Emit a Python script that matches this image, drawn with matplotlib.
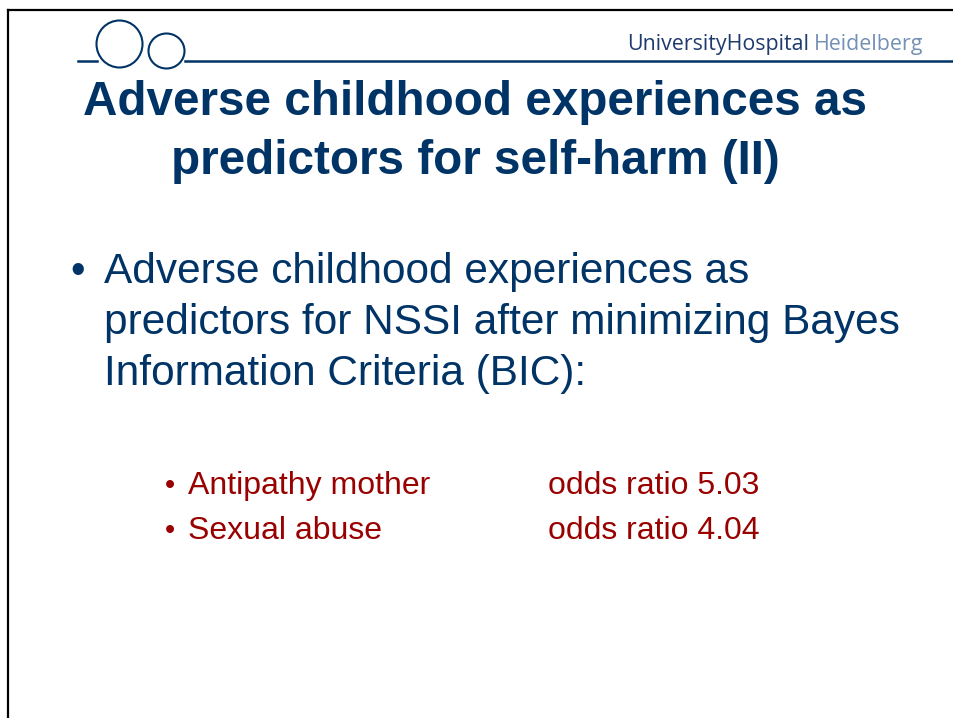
import matplotlib.pyplot as plt
from matplotlib.patches import Ellipse

# slide texts
title_lines = ["Adverse childhood experiences as", "predictors for self-harm (II)"]
body_lines = ["Adverse childhood experiences as",
              "predictors for NSSI after minimizing Bayes",
              "Information Criteria (BIC):"]
predictors = ["Antipathy mother", "Sexual abuse"]
odds_ratios = [5.03, 4.04]
brand = ["UniversityHospital", "Heidelberg"]

navy = "#003366"
red = "#990000"

fig = plt.figure(figsize=(9.54, 7.18), dpi=100)
ax = fig.add_axes([0, 0, 1, 1])
ax.set_xlim(0, 954)
ax.set_ylim(718, 0)
ax.axis("off")

# frame of the slide
ax.plot([8, 954], [10, 10], color="black", lw=1.6)
ax.plot([8, 8], [10, 718], color="black", lw=1.6)

# header logo
ax.plot([78, 97], [61, 61], color=navy, lw=1.8)
ax.plot([185, 954], [61, 61], color=navy, lw=1.8)
ax.add_patch(Ellipse((119.5, 44), 46, 47, fill=False, ec=navy, lw=1.5))
ax.add_patch(Ellipse((166.5, 51), 36, 35, fill=False, ec=navy, lw=1.5))
t = ax.text(627, 50, brand[0], color="#1f3a6e", fontsize=15.4,
            family="Open Sans", va="baseline")
fig.canvas.draw()
bb = t.get_window_extent()
x2 = ax.transData.inverted().transform((bb.x1, 0))[0]
ax.text(x2 + 5, 50, brand[1], color="#7390b5", fontsize=15.4,
        family="Open Sans", va="baseline")

# title
for i, line in enumerate(title_lines):
    ax.text(475, 115 + i * 59, line, color=navy, fontsize=34.3, fontweight="bold",
            family="Liberation Sans", ha="center", va="baseline")

# main bullet
ax.text(70, 283, "\u2022", color=navy, fontsize=30, family="Liberation Sans", va="baseline")
for i, line in enumerate(body_lines):
    ax.text(104, 283 + i * 51, line, color=navy, fontsize=30.5,
            family="Liberation Sans", va="baseline")

# sub bullets
for i, (name, odds) in enumerate(zip(predictors, odds_ratios)):
    y = 494 + i * 45
    ax.text(165, y, "\u2022", color=red, fontsize=21, family="Liberation Sans", va="baseline")
    ax.text(188, y, name, color=red, fontsize=23, family="Liberation Sans", va="baseline")
    ax.text(548, y, f"odds ratio {odds:.2f}", color=red, fontsize=23,
            family="Liberation Sans", va="baseline")

fig.savefig("out.png", dpi=100)
